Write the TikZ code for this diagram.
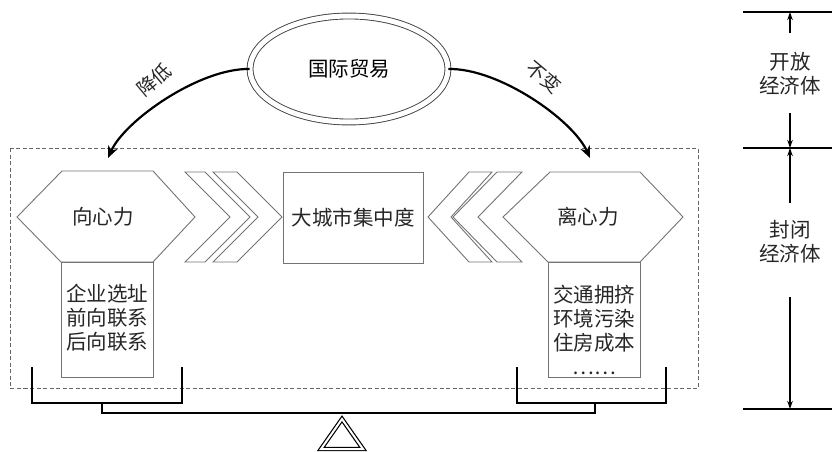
\documentclass[tikz,border=0pt]{standalone}
\usepackage{fontspec}
\setmainfont{Noto Sans CJK SC}
\usetikzlibrary{shapes.geometric,arrows.meta}
\begin{document}
\begin{tikzpicture}[x=1pt,y=-1pt,
  shp/.style={draw=black!55, line width=0.9pt, line join=miter},
  lbl/.style={font=\fontsize{20.5}{24}\selectfont, inner sep=0pt, text=black!85},
  small/.style={font=\fontsize{19}{22}\selectfont, inner sep=0pt, text=black!85},
  heavy/.style={line width=2pt, black},
  bigarrow/.style={line width=2.2pt, black, -{Stealth[length=12pt,width=10pt]}},
  dimarrow/.style={line width=1.6pt, black, -{Stealth[length=8pt,width=5.5pt]}}
]
\useasboundingbox (0,0) rectangle (832,452);

% dashed frame (closed economy)
\draw[dash pattern=on 4pt off 2.5pt, black!60, line width=0.8pt] (10,148) rectangle (698,388);

% international trade
\node[ellipse, draw=black!75, double, double distance=5pt, line width=0.9pt,
      minimum width=198pt, minimum height=106pt, inner sep=0pt, font=\fontsize{20.5}{24}\selectfont] (trade) at (349,69) {国际贸易};

% left hexagon + box
\draw[shp] (17,217) -- (62,171) -- (153,171) -- (195,217) -- (153,262) -- (61,262) -- cycle;
\draw[shp] (61,262) rectangle (153,377);
\node[lbl] (cp) at (103,217) {向心力};
\node[lbl, align=center] (cpl) at (107,318) {企业选址\\前向联系\\后向联系};

% right hexagon + box
\draw[shp] (503,217) -- (550,172) -- (640,172) -- (683,217) -- (640,262) -- (548,262) -- cycle;
\draw[shp] (548,262) rectangle (640,377);
\node[lbl] (cf) at (588,217) {离心力};
\node[lbl, align=center] (cfl) at (594,330) {交通拥挤\\环境污染\\住房成本\\……};

% centre box
\node[shp, lbl, minimum width=140pt, minimum height=91pt] (city) at (353,217.5) {大城市集中度};

% chevrons left
\draw[shp] (185,172) -- (205,172) -- (250,217) -- (205,262) -- (185,262) -- (230,217) -- cycle;
\draw[shp] (213,172) -- (237,172) -- (282,217) -- (237,262) -- (213,262) -- (258,217) -- cycle;
% chevrons right
\draw[shp] (469,172) -- (492,172) -- (451,217) -- (492,262) -- (469,262) -- (428,217) -- cycle;
\draw[shp] (497,172) -- (522,172) -- (478,217) -- (522,262) -- (497,262) -- (453,217) -- cycle;

% curved arrows
\coordinate (lt) at (108,158);
\coordinate (rt) at (590,158);
\draw[bigarrow] (trade.west) .. controls (200,68) and (125,120) .. (lt);
\draw[bigarrow] (trade.east) .. controls (499,68) and (573,120) .. (rt);
\node[small, rotate=40] (down) at (154,80) {降低};
\node[small, rotate=-40] (same) at (544,77) {不变};

% balance
\draw[heavy] (32,367) -- (32,403) -- (182,403) -- (182,367);
\draw[heavy] (517,367) -- (517,403) -- (666,403) -- (666,367);
\draw[heavy] (102,403) -- (102,413) -- (595,413) -- (595,403);
\begin{scope}
\clip (0,0) rectangle (832,452);
\draw[black, line width=1.2pt, double, double distance=2pt, line join=miter] (342,419) -- (363,449) -- (321,449) -- cycle;
\end{scope}

% right scale
\draw[heavy] (743,12) -- (832,12);
\draw[heavy] (743,148) -- (832,148);
\draw[heavy] (743,409) -- (832,409);
\coordinate (t1) at (790,12);
\coordinate (m1) at (790,148);
\coordinate (b1) at (790,409);
\node[lbl, align=center] (open) at (790,73.5) {开放\\经济体};
\node[lbl, align=center] (closed) at (790,241.5) {封闭\\经济体};
\coordinate (oa) at (790,33);
\coordinate (ob) at (790,113);
\coordinate (ca) at (790,203);
\coordinate (cb) at (790,297);
\draw[dimarrow] (oa) -- (t1);
\draw[dimarrow] (ob) -- (m1);
\draw[dimarrow] (ca) -- (m1);
\draw[dimarrow] (cb) -- (b1);
\end{tikzpicture}
\end{document}
